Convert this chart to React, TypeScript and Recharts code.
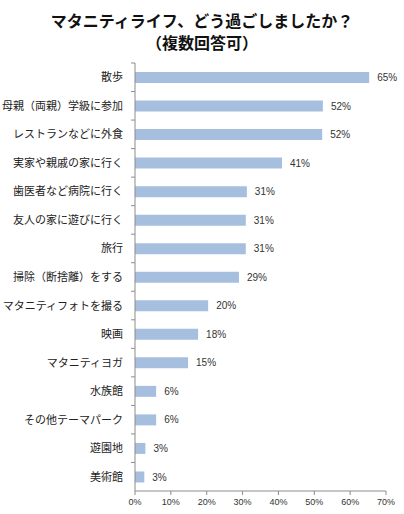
import React from "react";
import { BarChart, Bar, XAxis, YAxis, LabelList } from "recharts";

const categories = [
  "散歩",
  "母親（両親）学級に参加",
  "レストランなどに外食",
  "実家や親戚の家に行く",
  "歯医者など病院に行く",
  "友人の家に遊びに行く",
  "旅行",
  "掃除（断捨離）をする",
  "マタニティフォトを撮る",
  "映画",
  "マタニティヨガ",
  "水族館",
  "その他テーマパーク",
  "遊園地",
  "美術館",
];
const values = [65.3, 52.4, 52.2, 41.0, 31.2, 30.9, 30.9, 29.0, 20.4, 17.6, 14.8, 5.9, 5.9, 2.9, 2.6];
const xTicks = [0, 10, 20, 30, 40, 50, 60, 70];
const titleLines = ["マタニティライフ、どう過ごしましたか？", "（複数回答可）"];

const data = categories.map((name, i) => ({ name, value: values[i] }));

const W = 404;
const H = 514;
const TOP = 63;
const BOTTOM = 23;
const AXIS_W = 135;
const RIGHT = 18;
const CJK = "'Noto Sans CJK JP', sans-serif";
const LAT = "'Liberation Sans', Arial, sans-serif";
const AXIS_COLOR = "#8c8c8c";

const CatTick = (props: any) => {
  const { y, payload } = props;
  const band = (H - TOP - BOTTOM) / categories.length;
  return (
    <g>
      <line x1={AXIS_W - 4} x2={AXIS_W} y1={y - band / 2} y2={y - band / 2} stroke={AXIS_COLOR} />
      <text x={AXIS_W - 12} y={y} dy={4} textAnchor="end" fontSize={11} fill="#222" fontFamily={CJK}>
        {payload.value}
      </text>
    </g>
  );
};

export default function App() {
  return (
    <div style={{ position: "absolute", left: 0, top: 0, width: W, height: H, background: "#fff" }}>
      <div
        style={{
          position: "absolute",
          left: 0,
          top: 9,
          width: W,
          textAlign: "center",
          fontFamily: CJK,
          fontWeight: 700,
          fontSize: 16,
          color: "#111",
        }}
      >
        {titleLines.map((t) => (
          <div key={t} style={{ height: 22, lineHeight: "22px", whiteSpace: "nowrap" }}>
            {t}
          </div>
        ))}
      </div>
      <BarChart
        width={W}
        height={H}
        data={data}
        layout="vertical"
        margin={{ top: TOP, right: RIGHT, bottom: 0, left: 0 }}
        barCategoryGap={0}
      >
        <XAxis
          type="number"
          domain={[0, 70]}
          ticks={xTicks}
          tickFormatter={(v: number) => `${v}%`}
          height={BOTTOM}
          stroke={AXIS_COLOR}
          tickSize={4}
          tickMargin={4}
          tick={{ fontSize: 9, fill: "#333", fontFamily: LAT }}
          interval={0}
        />
        <YAxis
          type="category"
          dataKey="name"
          width={AXIS_W}
          stroke={AXIS_COLOR}
          tickLine={false}
          tick={<CatTick />}
          interval={0}
        />
        <Bar dataKey="value" fill="#A7BFDE" barSize={11} isAnimationActive={false}>
          <LabelList
            dataKey="value"
            position="right"
            offset={8}
            formatter={(v: number) => `${Math.round(v)}%`}
            style={{ fontSize: 10, fill: "#333", fontFamily: LAT }}
          />
        </Bar>
      </BarChart>
    </div>
  );
}
